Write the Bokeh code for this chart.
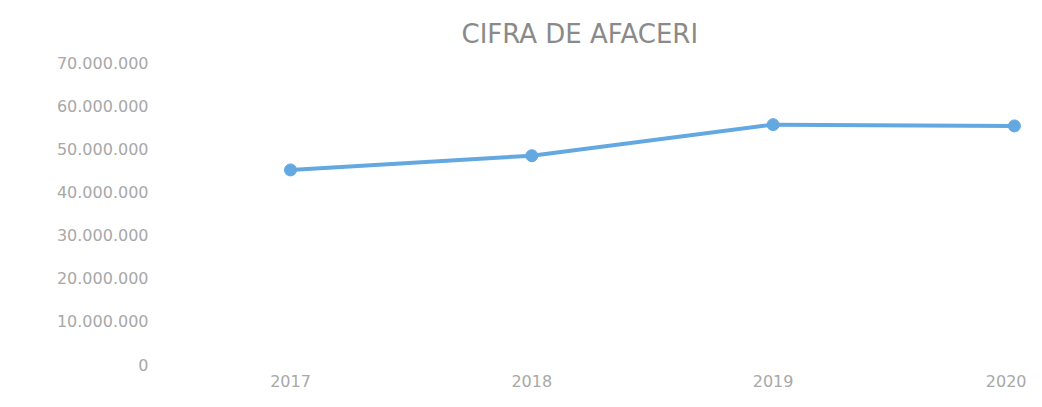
from bokeh.plotting import figure
from bokeh.models import FixedTicker, Range1d, Title
from bokeh.embed import file_html
from bokeh.resources import INLINE

years = [2017, 2018, 2019, 2020]
revenue = [45100000, 48400000, 55600000, 55300000]
y_ticks = [0, 10000000, 20000000, 30000000, 40000000, 50000000, 60000000, 70000000]
y_tick_labels = ["0", "10.000.000", "20.000.000", "30.000.000", "40.000.000",
                 "50.000.000", "60.000.000", "70.000.000"]
title_text = "CIFRA DE AFACERI"

p = figure(width=1026, height=399, output_backend="svg", toolbar_location=None,
           x_range=Range1d(2016.482, 2020.05), y_range=Range1d(0, 70000000),
           min_border_left=165, min_border_right=0, min_border_top=62,
           min_border_bottom=35)
p.title = Title(text=title_text, align="left", offset=296,
                text_font="DejaVu Sans", text_font_size="26px",
                text_font_style="normal", text_color="#8a8a8a", standoff=28)

p.line(years, revenue, line_color="#64a8e2", line_width=4)
p.scatter(years, revenue, size=12, fill_color="#64a8e2", line_color="#64a8e2")

p.outline_line_color = None
p.grid.grid_line_color = None
p.background_fill_color = "white"
p.border_fill_color = "white"

p.yaxis.ticker = FixedTicker(ticks=y_ticks)
p.yaxis.major_label_overrides = {t: l for t, l in zip(y_ticks, y_tick_labels)}
p.xaxis.ticker = FixedTicker(ticks=years)
p.xaxis.major_label_overrides = {y: str(y) for y in years}

for ax in (p.xaxis[0], p.yaxis[0]):
    ax.axis_line_color = None
    ax.major_tick_line_color = None
    ax.minor_tick_line_color = None
    ax.major_tick_out = 0
    ax.major_tick_in = 0
    ax.major_label_text_color = "#a8a8a8"
    ax.major_label_text_font = "DejaVu Sans"
    ax.major_label_text_font_size = "16px"

p.yaxis.major_label_standoff = 17
p.xaxis.major_label_standoff = 10

open("out.html", "w").write(file_html(p, INLINE))
